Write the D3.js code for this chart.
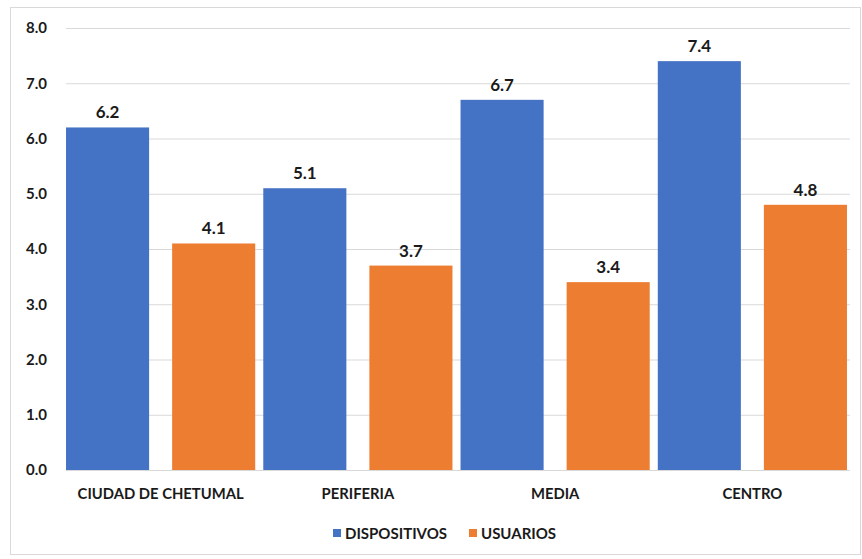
<!DOCTYPE html>
<html><head><meta charset="utf-8">
<script src="https://cdn.jsdelivr.net/npm/d3@7"></script>
<style>
body{margin:0;background:#fff;}
text{font-family:Lato,"Open Sans",sans-serif;font-weight:bold;fill:#1a1a1a;}
</style></head>
<body><svg id="c" width="862" height="559"></svg>
<script>
const categories = ["CIUDAD DE CHETUMAL","PERIFERIA","MEDIA","CENTRO"];
const seriesNames = ["DISPOSITIVOS","USUARIOS"];
const dispositivos = [6.2,5.1,6.7,7.4];
const usuarios = [4.1,3.7,3.4,4.8];
const yTicks = [0,1,2,3,4,5,6,7,8];
const colors = ["#4472C4","#ED7D31"];

const svg = d3.select("#c");
svg.append("rect").attr("x",10.5).attr("y",7.5).attr("width",850).attr("height",547)
  .attr("fill","#fff").attr("stroke","#d9d9d9");

const x0 = d3.scaleBand().domain(categories).range([62,851]).padding(0);
const x1 = d3.scaleBand().domain(seriesNames).range([0,x0.bandwidth()]).paddingInner(0.217).paddingOuter(0.038);
const y = d3.scaleLinear().domain([0,8]).range([470,28]);

const grid = svg.append("g");
yTicks.forEach(t=>{
  grid.append("line").attr("x1",66).attr("x2",850).attr("y1",y(t)+0.5).attr("y2",y(t)+0.5)
    .attr("stroke","#d9d9d9").attr("stroke-width",1);
});
const yAxis = svg.append("g").attr("transform","translate(47,0)")
  .call(d3.axisLeft(y).tickValues(yTicks).tickFormat(d3.format(".1f")).tickSize(0).tickPadding(0));
yAxis.select(".domain").remove();
yAxis.selectAll("text").style("font-size","15px").attr("fill","#1a1a1a");

const data = categories.map((c,i)=>({c, vals:[dispositivos[i],usuarios[i]]}));
const g = svg.append("g");
data.forEach(d=>{
  d.vals.forEach((v,j)=>{
    const xx = x0(d.c)+x1(seriesNames[j]);
    g.append("rect").attr("x",xx).attr("y",y(v)).attr("width",x1.bandwidth()).attr("height",y(0)-y(v))
      .attr("fill",colors[j]);
    g.append("text").attr("x",xx+x1.bandwidth()/2).attr("y",y(v)-9).attr("text-anchor","middle")
      .style("font-size","17px").text(d3.format(".1f")(v));
  });
});

const xAxis = svg.append("g").attr("transform","translate(0,470)")
  .call(d3.axisBottom(x0).tickSize(0).tickPadding(18));
xAxis.select(".domain").remove();
xAxis.selectAll("text").style("font-size","14.8px").attr("fill","#1a1a1a");

const leg = svg.append("g");
const legX = [333,469];
seriesNames.forEach((s,i)=>{
  leg.append("rect").attr("x",legX[i]).attr("y",529).attr("width",8).attr("height",8).attr("fill",colors[i]);
  leg.append("text").attr("x",legX[i]+12).attr("y",538.5).style("font-size","15px").text(s);
});
</script></body></html>
